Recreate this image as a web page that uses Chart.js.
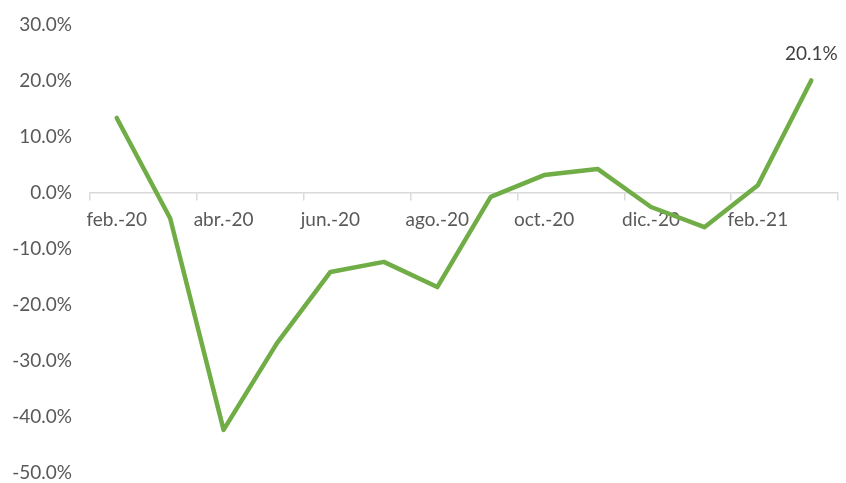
<!DOCTYPE html>
<html>
<head>
<meta charset="utf-8">
<script src="https://cdn.jsdelivr.net/npm/chart.js@4.4.1/dist/chart.umd.min.js"></script>
<style>
html,body{margin:0;padding:0;background:#fff;}
#wrap{width:846px;height:483px;}
</style>
</head>
<body>
<div id="wrap"><canvas id="c" width="846" height="483"></canvas></div>
<script>
const categories = ['feb.-20','mar.-20','abr.-20','may.-20','jun.-20','jul.-20','ago.-20','sep.-20','oct.-20','nov.-20','dic.-20','ene.-21','feb.-21','mar.-21'];
const values = [13.4, -4.5, -42.3, -26.8, -14.1, -12.3, -16.8, -0.7, 3.2, 4.3, -2.5, -6.1, 1.4, 20.1];
const yTicks = [-50, -40, -30, -20, -10, 0, 10, 20, 30];
const labelIndex = 13;

const FONT = 'Lato, "Open Sans", sans-serif';
const TXT = '#595959';

const lastLabel = {
  id: 'lastLabel',
  afterDatasetsDraw(chart) {
    const meta = chart.getDatasetMeta(0);
    const pt = meta.data[labelIndex];
    const ctx = chart.ctx;
    ctx.save();
    ctx.font = '19px ' + FONT;
    ctx.fillStyle = '#404040';
    ctx.textAlign = 'center';
    ctx.textBaseline = 'middle';
    ctx.fillText(values[labelIndex].toFixed(1) + '%', pt.x, pt.y - 27);
    ctx.restore();
  }
};

new Chart(document.getElementById('c'), {
  type: 'line',
  data: {
    labels: categories,
    datasets: [{
      data: values,
      borderColor: '#70AD47',
      borderWidth: 4.5,
      pointRadius: 0,
      tension: 0,
      borderJoinStyle: 'round',
      borderCapStyle: 'round',
      fill: false
    }]
  },
  options: {
    responsive: false,
    animation: false,
    layout: {padding: {top: 25, bottom: 10, left: 0, right: 8}},
    plugins: {legend: {display: false}, tooltip: {enabled: false}},
    scales: {
      x: {
        position: {y: 0},
        offset: true,
        afterFit: (s) => { s.height = 0; s.paddingLeft = 0; s.paddingRight = 0; s.paddingTop = 0; s.paddingBottom = 0; },
        grid: {
          offset: true,
          drawOnChartArea: false,
          drawTicks: true,
          tickLength: 7,
          color: (ctx) => (ctx.index === undefined || ctx.index % 2 === 0) ? '#d9d9d9' : 'rgba(0,0,0,0)',
          lineWidth: 1.5
        },
        border: {display: true, color: '#d9d9d9', width: 1.5},
        ticks: {
          autoSkip: false,
          maxRotation: 0,
          padding: 8,
          color: TXT,
          font: {family: FONT, size: 19},
          callback: function(v, i) { return i % 2 === 0 ? categories[i] : ''; }
        }
      },
      y: {
        min: -50,
        max: 30,
        afterBuildTicks: (scale) => { scale.ticks = yTicks.map(v => ({value: v})); },
        afterFit: (s) => { s.width = 90; s.paddingTop = 0; s.paddingBottom = 0; s.paddingLeft = 0; s.paddingRight = 0; },
        grid: {display: false, drawTicks: false},
        border: {display: false},
        ticks: {
          padding: 18,
          color: TXT,
          font: {family: FONT, size: 19},
          callback: (v) => Number(v).toFixed(1) + '%'
        }
      }
    }
  },
  plugins: [lastLabel]
});
</script>
</body>
</html>
